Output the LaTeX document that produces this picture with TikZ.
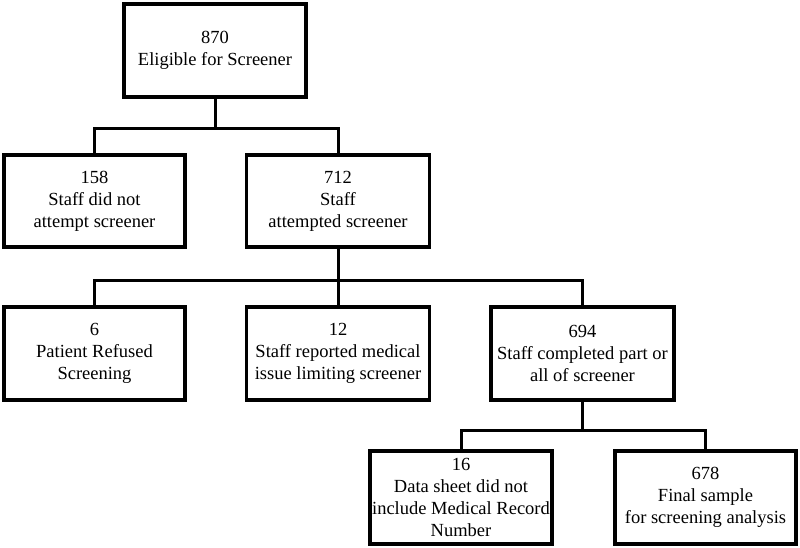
\documentclass[tikz,border=0pt]{standalone}
\usepackage{fontspec}
\setmainfont{Liberation Serif}[Ligatures=TeX]
\newfontfamily\tnrfont{Liberation Serif}
\begin{document}
\begin{tikzpicture}[x=1pt,y=-1pt,
  box/.style={draw=black, line width=3.6pt, fill=white, inner sep=0pt, align=center,
    font=\tnrfont\fontsize{18.5}{22}\selectfont},
  conn/.style={draw=black, line width=3pt}]
\useasboundingbox (0,0) rectangle (800,548);
% boxes
\node[box, minimum width=182pt, minimum height=93pt] (b870) at (215,50.5) {870\\Eligible for Screener};
\node[box, minimum width=181pt, minimum height=92pt] (b158) at (94.5,201) {158\\Staff did not\\attempt screener};
\node[box, minimum width=183pt, minimum height=92pt] (b712) at (338,201) {712\\Staff\\attempted screener};
\node[box, minimum width=181pt, minimum height=93pt] (b6) at (94.5,353.5) {6\\Patient Refused\\Screening};
\node[box, minimum width=183pt, minimum height=93pt] (b12) at (338,353.5) {12\\Staff reported medical\\issue limiting screener};
\node[box, minimum width=183pt, minimum height=93pt] (b694) at (582.5,353.5) {694\\Staff completed part or\\all of screener};
\node[box, minimum width=182pt, minimum height=93pt] (b16) at (461,497.5) {16\\Data sheet did not\\include Medical Record\\Number};
\node[box, minimum width=181pt, minimum height=93pt] (b678) at (705.5,497.5) {678\\Final sample\\for screening analysis};
% junctions
\coordinate (j1) at (b870.south |- 0,129);
\coordinate (j2) at (b712.south |- 0,280);
\coordinate (j3) at (b694.south |- 0,430);
% connectors
\draw[conn] (b870.south) -- (j1);
\draw[conn] (b158.north) |- (j1) -| (b712.north);
\draw[conn] (b712.south) -- (j2);
\draw[conn] (b6.north) |- (j2) -| (b694.north);
\draw[conn] (j2) -- (b12.north);
\draw[conn] (b694.south) -- (j3);
\draw[conn] (b16.north) |- (j3) -| (b678.north);
\end{tikzpicture}
\end{document}
